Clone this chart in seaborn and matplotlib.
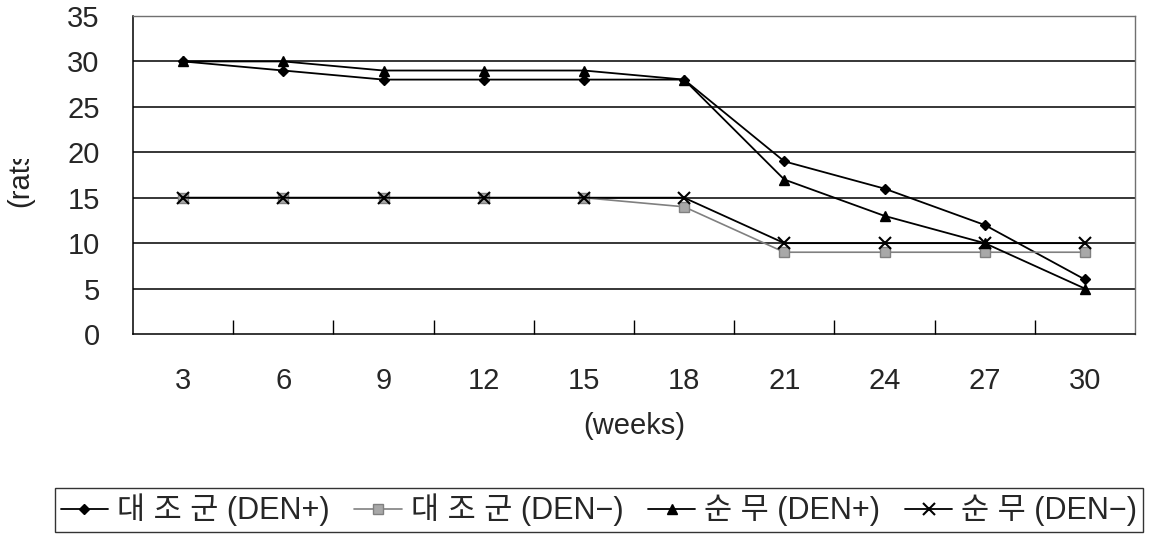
import matplotlib
matplotlib.use("Agg")
import matplotlib.pyplot as plt
import seaborn as sns
import pandas as pd
from matplotlib.transforms import Bbox

weeks = ["3", "6", "9", "12", "15", "18", "21", "24", "27", "30"]
ctrl_pos = [30, 29, 28, 28, 28, 28, 19, 16, 12, 6]
ctrl_neg = [15, 15, 15, 15, 15, 14, 9, 9, 9, 9]
turnip_pos = [30, 30, 29, 29, 29, 28, 17, 13, 10, 5]
turnip_neg = [15, 15, 15, 15, 15, 15, 10, 10, 10, 10]
series_names = ["대 조 군 (DEN+)", "대 조 군 (DEN−)", "순 무 (DEN+)", "순 무 (DEN−)"]
y_ticks = [0, 5, 10, 15, 20, 25, 30, 35]

sns.set_theme(style="white")
plt.rcParams['font.family'] = ['Liberation Sans', 'Noto Sans CJK KR', 'DejaVu Sans']

fig = plt.figure(figsize=(11.51, 5.40), dpi=100)
L, R, T, B = 133, 1135, 16, 334
ax = fig.add_axes([L/1151, 1-B/540, (R-L)/1151, (B-T)/540])

styles = [
    dict(color="black", marker="D", markersize=5, mfc="black", mec="black", lw=1.3),
    dict(color="#808080", marker="s", markersize=7, mfc="#a8a8a8", mec="#808080", lw=1.2),
    dict(color="black", marker="^", markersize=7, mfc="black", mec="black", lw=1.3),
    dict(color="black", marker="x", markersize=8, mfc="black", mec="black", lw=1.3, mew=1.5),
]
data = [ctrl_pos, ctrl_neg, turnip_pos, turnip_neg]
handles = []
for name, vals, st in zip(series_names, data, styles):
    df = pd.DataFrame({"week": weeks, "value": vals})
    sns.lineplot(data=df, x="week", y="value", ax=ax, sort=False,
                 color=st["color"], marker=st["marker"], markersize=st["markersize"],
                 markerfacecolor=st["mfc"], markeredgecolor=st["mec"],
                 linewidth=st["lw"], markeredgewidth=st.get("mew", 1.0),
                 label=name, legend=False)
    handles.append(ax.lines[-1])

ax.set_xlim(-0.5, len(weeks) - 0.5)
ax.set_ylim(0, 35)
ax.set_yticks(y_ticks)
ax.set_yticklabels([str(v) for v in y_ticks])
ax.set_xticks(range(len(weeks)))
ax.set_xticklabels(weeks)
ax.set_xticks([i + 0.5 for i in range(len(weeks) - 1)], minor=True)
ax.tick_params(axis="x", which="major", length=0, pad=24, labelsize=21)
ax.tick_params(axis="x", which="minor", direction="in", length=10, width=1, color="black", bottom=True)
ax.tick_params(axis="y", length=0, pad=24, labelsize=21)
for v in y_ticks[1:-1]:
    ax.axhline(v, color="black", lw=1.1, zorder=0)
for s in ["left", "bottom"]:
    ax.spines[s].set_color("black")
    ax.spines[s].set_linewidth(1.1)
for s in ["top", "right"]:
    ax.spines[s].set_color("#707070")
    ax.spines[s].set_linewidth(1.0)
    ax.spines[s].set_linestyle((0, (3, 1)))
ax.set_xlabel("(weeks)", fontsize=21, labelpad=12)
ax.set_ylabel("")

yl = fig.text(20/1151, 1-207/540, "(rats)", rotation=90, fontsize=21,
              ha="center", va="bottom", color="#222222")
yl.set_clip_box(Bbox.from_extents(0, 0, 1151, 540-159))
yl.set_clip_on(True)

leg = fig.legend(handles=handles, labels=series_names, loc="center",
                 bbox_to_anchor=(599/1151, 1-510/540), ncol=4, frameon=True,
                 fontsize=22, handlelength=1.55, handletextpad=0.3, columnspacing=0.8,
                 borderpad=0.2, fancybox=False, edgecolor="black")
leg.get_frame().set_linewidth(1.0)

fig.savefig("out.png", dpi=100)
